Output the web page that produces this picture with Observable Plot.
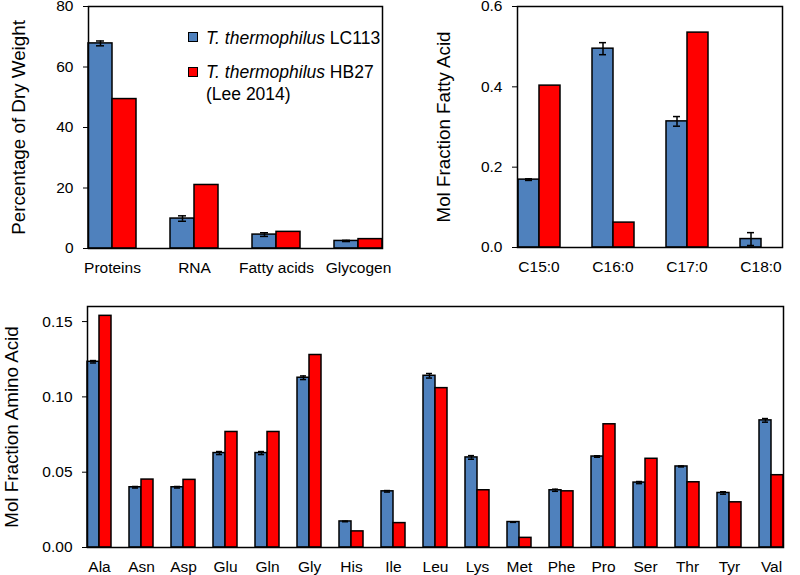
<!DOCTYPE html>
<html>
<head>
<meta charset="utf-8">
<script src="https://cdn.jsdelivr.net/npm/d3@7"></script>
<script src="https://cdn.jsdelivr.net/npm/@observablehq/plot@0.6"></script>
<style>
  html, body { margin: 0; padding: 0; background: #fff; }
  #wrap { position: relative; width: 800px; height: 575px; overflow: hidden; font-family: "Liberation Sans", Arial, sans-serif; }
  #wrap svg { position: absolute; background: none !important; }
  .leg { position: absolute; font-family: "Liberation Sans", Arial, sans-serif; font-size: 17.5px; line-height: 1; white-space: nowrap; color: #000; }
  .sw { position: absolute; width: 8px; height: 8px; border: 1.2px solid #000; }
</style>
</head>
<body>
<div id="wrap"></div>
<script>
// ---- Data ----
const seriesNames = ["LC113", "HB27"];
const seriesColors = ["#4f81bd", "#ff0000"];

const compCategories = ["Proteins", "RNA", "Fatty acids", "Glycogen"];
const compLC113 = [67.8, 9.9, 4.6, 2.5];
const compLC113Err = [0.8, 0.9, 0.6, 0.2];
const compHB27 = [49.4, 21.0, 5.5, 3.1];
const compTicks = [0, 20, 40, 60, 80];

const faCategories = ["C15:0", "C16:0", "C17:0", "C18:0"];
const faLC113 = [0.169, 0.495, 0.314, 0.021];
const faLC113Err = [0.002, 0.015, 0.012, 0.016];
const faHB27 = [0.403, 0.062, 0.535, 0];
const faTicks = [0, 0.2, 0.4, 0.6];

const aaCategories = ["Ala", "Asn", "Asp", "Glu", "Gln", "Gly", "His", "Ile", "Leu", "Lys", "Met", "Phe", "Pro", "Ser", "Thr", "Tyr", "Val"];
const aaLC113 = [0.1233, 0.0400, 0.0400, 0.0627, 0.0627, 0.1127, 0.0173, 0.0373, 0.1140, 0.0598, 0.0169, 0.0380, 0.0604, 0.0431, 0.0538, 0.0362, 0.0844];
const aaLC113Err = [0.0008, 0.0005, 0.0005, 0.0010, 0.0010, 0.0012, 0.0002, 0.0005, 0.0015, 0.0012, 0.0002, 0.0007, 0.0005, 0.0007, 0.0003, 0.0008, 0.0012];
const aaHB27 = [0.1538, 0.0451, 0.0449, 0.0767, 0.0767, 0.1278, 0.0107, 0.0162, 0.1058, 0.0380, 0.0064, 0.0373, 0.0818, 0.0589, 0.0433, 0.0300, 0.0480];
const aaTicks = [0, 0.05, 0.10, 0.15];

function panel(o) {
  const rows = [];
  o.cats.forEach((c, i) => {
    rows.push({cat: c, series: seriesNames[0], value: o.a[i], err: o.aErr[i]});
    rows.push({cat: c, series: seriesNames[1], value: o.b[i], err: null});
  });
  const errRows = rows.filter(d => d.err != null);
  const svg = Plot.plot({
    width: o.width, height: o.height,
    marginLeft: o.ml, marginRight: o.mr, marginTop: o.mt, marginBottom: o.mb,
    style: {fontFamily: '"Liberation Sans", Arial, sans-serif', fontSize: "15.5px", color: "#000", background: "none", overflow: "visible"},
    fx: {domain: o.cats, paddingInner: 0.42, paddingOuter: 0.21, label: null, axis: "bottom", tickSize: 0, tickPadding: 13},
    x: {domain: seriesNames, axis: null, padding: 0},
    y: {domain: o.yDomain, ticks: o.ticks, tickFormat: o.fmt, tickSize: 5, tickPadding: 10,
        label: o.label, labelAnchor: "center", labelOffset: o.labelOffset, labelArrow: "none"},
    color: {domain: seriesNames, range: seriesColors},
    marks: [
      Plot.barY(rows, {fx: "cat", x: "series", y: "value", fill: "series", stroke: "#000", strokeWidth: 1.5}),
      Plot.ruleX(errRows, {fx: "cat", x: "series", y1: d => d.value - d.err, y2: d => d.value + d.err, stroke: "#000", strokeWidth: 1.5, clip: true}),
      Plot.tickY(errRows, {fx: "cat", x: "series", y: d => d.value + d.err, stroke: "#000", strokeWidth: 1.5, insetLeft: o.capInset, insetRight: o.capInset}),
      Plot.tickY(errRows, {fx: "cat", x: "series", y: d => d.value - d.err, stroke: "#000", strokeWidth: 1.5, insetLeft: o.capInset, insetRight: o.capInset, clip: true}),
      Plot.frame({facet: "super", stroke: "#000", strokeWidth: 1.5})
    ]
  });
  svg.style.left = o.left + "px";
  svg.style.top = o.top + "px";
  const lab = svg.querySelector('g[aria-label="y-axis label"]');
  if (lab) { lab.setAttribute("font-size", "18.8px"); lab.querySelectorAll("text").forEach(t => t.style.fontSize = "18.8px"); }
  return svg;
}

const wrap = document.getElementById("wrap");
wrap.appendChild(panel({
  cats: compCategories, a: compLC113, aErr: compLC113Err, b: compHB27,
  yDomain: [0, 80], ticks: compTicks, fmt: d3.format("d"), label: "Percentage of Dry Weight",
  width: 401, height: 285, ml: 69, mr: 1, mt: 6, mb: 37, left: 0, top: 0, capInset: 8, labelOffset: 77
}));
wrap.appendChild(panel({
  cats: faCategories, a: faLC113, aErr: faLC113Err, b: faHB27,
  yDomain: [0, 0.6], ticks: faTicks, fmt: d3.format(".1f"), label: "Mol Fraction Fatty Acid",
  width: 400, height: 285, ml: 100, mr: 2, mt: 6, mb: 38, left: 400, top: 0, capInset: 7, labelOffset: 81
}));
wrap.appendChild(panel({
  cats: aaCategories, a: aaLC113, aErr: aaLC113Err, b: aaHB27,
  yDomain: [0, 0.16], ticks: aaTicks, fmt: d3.format(".2f"), label: "Mol Fraction Amino Acid",
  width: 800, height: 285, ml: 72, mr: 2, mt: 16, mb: 28, left: 0, top: 290, capInset: 3, labelOffset: 83
}));

// ---- Legend (inside top-left panel) ----
const legendItems = [
  {color: seriesColors[0], italic: "T. thermophilus", rest: " LC113", top: 29.5, swTop: 32},
  {color: seriesColors[1], italic: "T. thermophilus", rest: " HB27", top: 63.5, swTop: 67}
];
legendItems.forEach(it => {
  const sw = document.createElement("div");
  sw.className = "sw";
  sw.style.background = it.color;
  sw.style.left = "188px";
  sw.style.top = it.swTop + "px";
  wrap.appendChild(sw);
  const t = document.createElement("div");
  t.className = "leg";
  t.style.left = "206px";
  t.style.top = it.top + "px";
  t.innerHTML = "<i>" + it.italic + "</i>" + it.rest;
  wrap.appendChild(t);
});
const t3 = document.createElement("div");
t3.className = "leg";
t3.style.left = "206px";
t3.style.top = "86px";
t3.textContent = "(Lee 2014)";
wrap.appendChild(t3);
</script>
</body>
</html>
